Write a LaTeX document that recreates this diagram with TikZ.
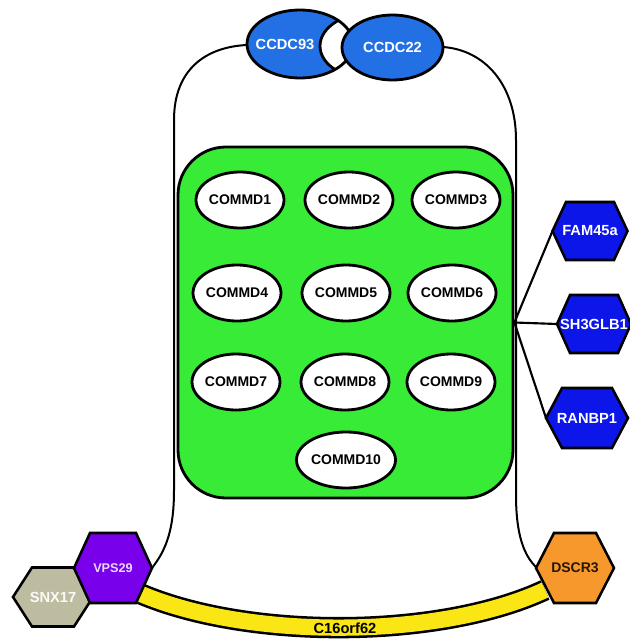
\documentclass[tikz,border=0pt]{standalone}
\usepackage{fontspec}
\setmainfont{Liberation Sans}
\usetikzlibrary{shapes.geometric}
\definecolor{ccdcblue}{RGB}{35,112,228}
\definecolor{hexblue}{RGB}{12,22,232}
\definecolor{boxgreen}{RGB}{55,235,55}
\definecolor{vpspurple}{RGB}{120,0,235}
\definecolor{snxkhaki}{RGB}{190,188,160}
\definecolor{dscrorange}{RGB}{247,152,45}
\definecolor{bandyellow}{RGB}{250,230,20}
\tikzset{
  commd/.style={ellipse, draw, fill=white, line width=2.1pt, minimum width=63.75pt,
    minimum height=42pt, inner sep=0pt, font=\fontsize{10.5}{12}\selectfont\bfseries},
  ccdc/.style={ellipse, draw, fill=ccdcblue, line width=2.1pt, text=white, inner sep=0pt,
    font=\fontsize{11}{13}\selectfont\bfseries},
  ccdclabel/.style={inner sep=0pt, text=white, font=\fontsize{11}{13}\selectfont\bfseries},
  hexline/.style={draw=black, line width=1.9pt, line join=miter},
  hexlabel/.style={inner sep=0pt, font=\fontsize{11}{13}\selectfont\bfseries},
  bell/.style={draw, line width=1.5pt},
  link/.style={draw, line width=1.6pt},
}
\newcommand\hexnode[9]{%
  \filldraw[hexline, fill=#7] (#2-#4,#3) -- (#2-#5,#3-#6) -- (#2+#5,#3-#6) -- (#2+#4,#3)
     -- (#2+#5,#3+#6) -- (#2-#5,#3+#6) -- cycle;
  \node[hexlabel, text=#8] (#1) at (#2,#3) {#9};
  \coordinate (#1-w) at (#2-#4,#3);
  \coordinate (#1-e) at (#2+#4,#3);
}
\begin{document}
\begin{tikzpicture}[x=0.75pt, y=-0.75pt]
\useasboundingbox (0,0) rectangle (629,642);
% anchor coordinates for bell ends
\coordinate (vpsE) at (152,568);
\coordinate (dscrW) at (537,568);
\coordinate (c93W) at (247,45);
\coordinate (c22E) at (443,47);
% bell outline
\draw[bell] (vpsE) .. controls (166,550) and (174,530) .. (174,490) -- (174,120)
   .. controls (174,70) and (205,47) .. (c93W);
\draw[bell] (c22E) .. controls (485,50) and (516,85) .. (516,140) -- (516,495)
   .. controls (516,535) and (524,556) .. (dscrW);
% green complex box
\node[draw, fill=boxgreen, line width=2.1pt, rounded corners=36pt,
      minimum width=251.25pt, minimum height=263.25pt, inner sep=0pt] (box) at (345.5,322.5) {};
% COMMD ellipses
\node[commd] (m1) at (240,200) {COMMD1};
\node[commd] (m2) at (349,200) {COMMD2};
\node[commd] (m3) at (456,200) {COMMD3};
\node[commd] (m4) at (237,293) {COMMD4};
\node[commd] (m5) at (346,293) {COMMD5};
\node[commd] (m6) at (452,293) {COMMD6};
\node[commd] (m7) at (236,382) {COMMD7};
\node[commd] (m8) at (345,382) {COMMD8};
\node[commd] (m9) at (451,382) {COMMD9};
\node[commd] (m10) at (346,460) {COMMD10};
% CCDC pair
\fill[ccdcblue] (300,44) ellipse [x radius=53, y radius=34];
\begin{scope}
  \clip (300,44) ellipse [x radius=53, y radius=34];
  \filldraw[fill=white, draw=black, line width=2.1pt] (370,46) ellipse [x radius=50, y radius=33];
\end{scope}
\node[ellipse, draw, line width=2.1pt, minimum width=79.5pt, minimum height=51pt, inner sep=0pt] (c93) at (300,44) {};
\node[ccdclabel] (c93t) at (285,44) {CCDC93};
\node[ccdc, minimum width=75.75pt, minimum height=48.75pt] (c22) at (392.5,47.5) {CCDC22};
% connectors to right-hand hexagons
\draw[link] (box.east) -- (590-37.5,231);
\draw[link] (box.east) -- (594-37,324);
\draw[link] (box.east) -- (587-41,418);
\hexnode{fam}{590}{231}{37.5}{24}{29}{hexblue}{white}{FAM45a}
\hexnode{sh3}{594}{324}{37}{24}{29}{hexblue}{white}{SH3GLB1}
\hexnode{ran}{587}{418}{41}{25}{30}{hexblue}{white}{RANBP1}
% C16orf62 band
\coordinate (bandL) at (141,594);
\coordinate (bandR) at (545,590);
\draw[line width=16pt] (bandL) .. controls (250,640) and (440,639) .. (bandR);
\draw[line width=12.2pt, bandyellow] (bandL) .. controls (250,640) and (440,639) .. (bandR);
\node[font=\fontsize{11}{13}\selectfont\bfseries, inner sep=0pt] (c16) at (345,628) {C16orf62};
% bottom hexagons
\hexnode{snx}{53}{597}{40}{21}{29.5}{snxkhaki}{white!92!snxkhaki}{SNX17}
\hexnode{vps}{113}{568}{39}{23}{35}{vpspurple}{white!85!vpspurple}{\fontsize{9.5}{11}\selectfont VPS29}
\hexnode{dscr}{575}{568}{39}{21}{35}{dscrorange}{black!85!dscrorange}{\fontsize{10.5}{12}\selectfont DSCR3}
\end{tikzpicture}
\end{document}
